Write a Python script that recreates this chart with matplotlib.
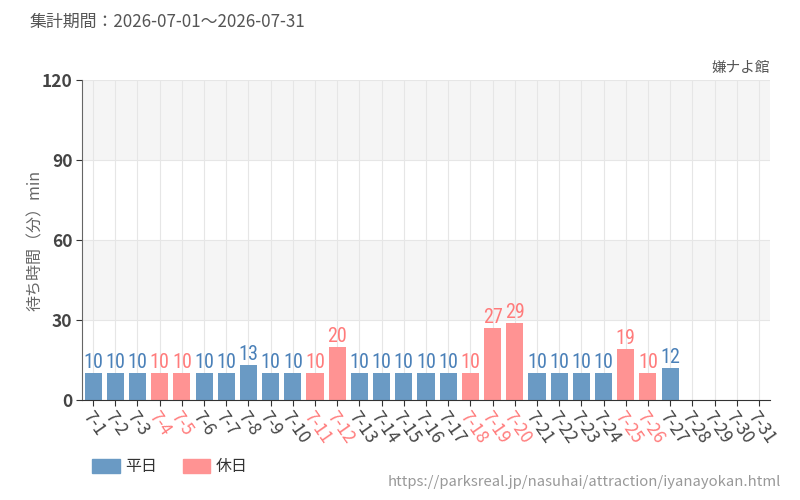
import matplotlib
matplotlib.use("Agg")
import matplotlib.pyplot as plt
from matplotlib.patches import Patch
from matplotlib import font_manager

plt.rcParams['font.family'] = ['Noto Sans CJK JP', 'DejaVu Sans']

days = [f"7-{d}" for d in range(1, 32)]
values = [10, 10, 10, 10, 10, 10, 10, 13, 10, 10, 10, 20, 10, 10, 10, 10, 10, 10,
          27, 29, 10, 10, 10, 10, 19, 10, 12, None, None, None, None]
holidays = ["7-4", "7-5", "7-11", "7-12", "7-18", "7-19", "7-20", "7-25", "7-26"]
yticks = [0, 30, 60, 90, 120]

BLUE = "#6a9ac4"
PINK = "#ff9393"
BLUE_T = "#4a80b8"
PINK_T = "#ff7b7b"

names = {f.name for f in font_manager.fontManager.ttflist}
narrow = [n for n in ["Liberation Sans Narrow", "DejaVu Sans Condensed", "Roboto Condensed"] if n in names]
num_family = (narrow[:1] or ["DejaVu Sans"]) + ["DejaVu Sans"]

fig = plt.figure(figsize=(8, 5), dpi=100)
ax = fig.add_axes([0.1025, 0.2, 0.86, 0.64])

ax.set_xlim(-0.5, len(days) - 0.5)
ax.set_ylim(0, 120)
for i in range(len(yticks) - 1):
    if i % 2 == 1:
        ax.axhspan(yticks[i], yticks[i + 1], color="#f5f5f5", zorder=0, lw=0)
for y in yticks[1:]:
    ax.axhline(y, color="#e6e6e6", lw=0.8, zorder=0.5)
for i in range(len(days)):
    ax.axvline(i, color="#e6e6e6", lw=0.8, zorder=0.5)

for i, (d, v) in enumerate(zip(days, values)):
    if v is None:
        continue
    hol = d in holidays
    ax.bar(i, v, width=0.77, color=PINK if hol else BLUE, zorder=2)
    ax.text(i, v + 0.4, str(v), ha="center", va="bottom", fontsize=14.5,
            color=PINK_T if hol else BLUE_T, family=num_family, zorder=3)

ax.set_xticks(range(len(days)))
ax.set_xticklabels(days, rotation=-55, ha="left", va="top", rotation_mode="anchor", fontsize=12.5)
for lbl, d in zip(ax.get_xticklabels(), days):
    lbl.set_color(PINK_T if d in holidays else "#444444")
ax.set_yticks(yticks)
ax.set_yticklabels([str(y) for y in yticks], fontsize=12.5, color="#444444", fontweight="bold")
ax.tick_params(axis="x", length=4, color="#333333", pad=2)
ax.tick_params(axis="y", length=4, color="#333333", pad=3)

for s in ["top", "right"]:
    ax.spines[s].set_visible(False)
ax.spines["left"].set_color("#666666")
ax.spines["bottom"].set_color("#333333")

ax.set_ylabel("待ち時間（分）min", fontsize=11.5, color="#666666", labelpad=0)
ax.yaxis.set_label_coords(-38 / 688, 0.5)

fig.text(30 / 800, 1 - 22 / 500, "集計期間：2026-07-01～2026-07-31", fontsize=12.2,
         color="#555555", ha="left", va="center")
fig.text(770 / 800, 1 - 68 / 500, "嫌ナよ館", fontsize=10.5, color="#555555",
         ha="right", va="center")
fig.text(781 / 800, 1 - 482 / 500, "https://parksreal.jp/nasuhai/attraction/iyanayokan.html",
         fontsize=10.7, color="#999999", ha="right", va="center")

handles = [Patch(color=BLUE, label="平日"), Patch(color=PINK, label="休日")]
fig.legend(handles=handles, loc="center left", bbox_to_anchor=(78 / 800, 1 - 467 / 500),
           ncol=2, frameon=False, fontsize=11.5, handlelength=1.7, handleheight=1.0,
           columnspacing=1.6, handletextpad=0.35, labelcolor="#333333")

fig.savefig("out.png", dpi=100)
